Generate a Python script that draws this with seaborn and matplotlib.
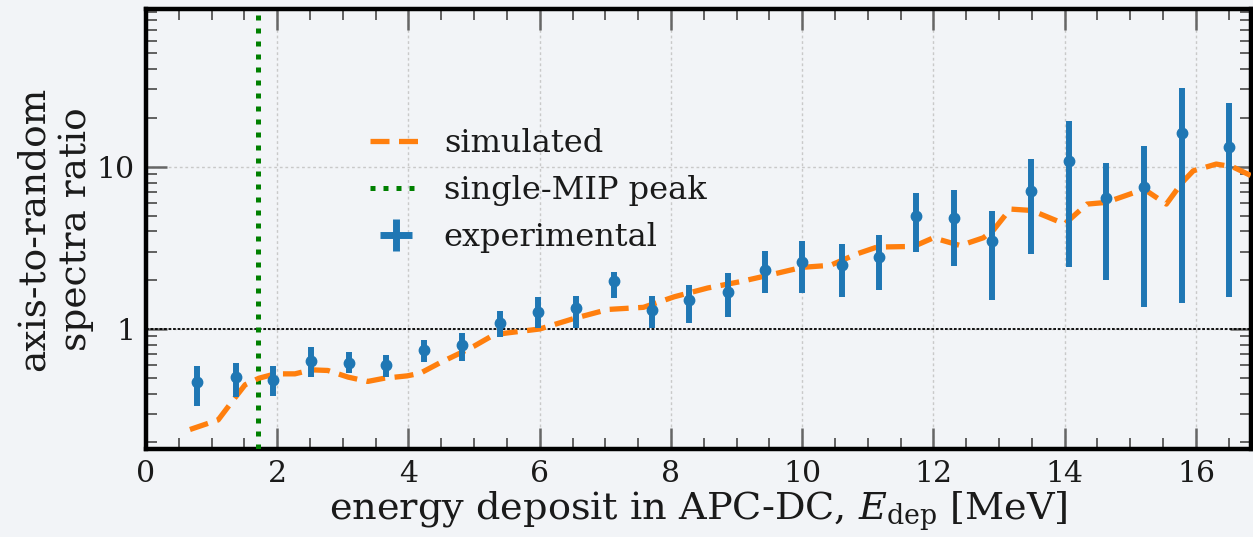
import numpy as np
import pandas as pd
import matplotlib
matplotlib.use("Agg")
import matplotlib.pyplot as plt
from matplotlib.lines import Line2D
from matplotlib.ticker import MultipleLocator, LogLocator, NullFormatter, FixedLocator, FixedFormatter
import seaborn as sns

# ---- data ----
exp_x = [0.78, 1.37, 1.94, 2.51, 3.09, 3.66, 4.24, 4.82, 5.39, 5.97, 6.55, 7.13, 7.71, 8.28,
         8.87, 9.43, 10.0, 10.6, 11.17, 11.74, 12.32, 12.9, 13.49, 14.07, 14.63, 15.21, 15.79, 16.51]
exp_y = [0.468, 0.505, 0.486, 0.637, 0.616, 0.596, 0.738, 0.80, 1.089, 1.28, 1.34, 1.99, 1.31, 1.51,
         1.70, 2.32, 2.59, 2.47, 2.78, 4.95, 4.81, 3.48, 7.1, 10.8, 6.41, 7.46, 16.1, 13.3]
exp_lo = [0.336, 0.383, 0.387, 0.505, 0.535, 0.505, 0.622, 0.631, 0.893, 1.01, 1.01, 1.55, 1.01, 1.09,
          1.18, 1.66, 1.67, 1.58, 1.75, 2.98, 2.44, 1.50, 2.92, 2.42, 2.01, 1.36, 1.45, 1.57]
exp_hi = [0.588, 0.616, 0.588, 0.774, 0.717, 0.690, 0.859, 0.945, 1.286, 1.58, 1.60, 2.26, 1.60, 1.87,
          2.21, 3.01, 3.48, 3.35, 3.81, 6.88, 7.17, 5.36, 11.2, 19.2, 10.6, 13.5, 30.8, 24.9]

sim_x = [0.67, 1.10, 1.33, 1.51, 1.72, 1.97, 2.27, 2.52, 2.77, 3.08, 3.38, 3.63, 3.98, 4.18, 4.49,
         4.79, 4.99, 5.30, 5.50, 6.00, 6.52, 7.04, 7.58, 8.05, 8.56, 9.06, 9.52, 10.0, 10.43, 10.84,
         11.14, 11.70, 12.00, 12.41, 12.76, 12.91, 13.17, 13.50, 14.00, 14.34, 14.63, 15.21, 15.55,
         15.79, 15.96, 16.31, 16.56, 16.90]
sim_y = [0.24, 0.275, 0.365, 0.453, 0.497, 0.529, 0.529, 0.56, 0.555, 0.505, 0.475, 0.497, 0.514,
         0.534, 0.622, 0.711, 0.78, 0.92, 0.945, 1.0, 1.16, 1.32, 1.36, 1.58, 1.79, 1.96, 2.16, 2.40,
         2.47, 2.91, 3.20, 3.23, 3.65, 3.27, 3.65, 4.05, 5.49, 5.38, 4.44, 5.89, 6.03, 7.28, 5.89,
         8.0, 9.45, 10.4, 10.0, 8.59]

mip_peak = 1.71
x_ticks = [0, 2, 4, 6, 8, 10, 12, 14, 16]
y_ticks = [1, 10]
y_ticklabels = ["1", "10"]

# ---- style ----
BG = "#f2f4f7"
TXT = "#1a1a1a"
sns.set_theme(style="ticks")
plt.rcParams["font.family"] = ["DejaVu Serif"]
plt.rcParams["mathtext.fontset"] = "dejavuserif"

fig = plt.figure(figsize=(12.53, 5.37), dpi=100, facecolor=BG)
ax = fig.add_axes([146 / 1253, 1 - 449 / 537, 1105 / 1253, 440 / 537])
ax.set_facecolor(BG)
ax.set_yscale("log")

sim_df = pd.DataFrame({"x": sim_x, "y": sim_y})
sns.lineplot(data=sim_df, x="x", y="y", ax=ax, color="#ff7f0e", lw=3.8,
             linestyle="--", dashes=False, zorder=4, legend=False)
ax.lines[-1].set_linestyle((0, (3.6, 1.8)))

exp_y_arr = np.array(exp_y)
yerr = np.vstack([exp_y_arr - np.array(exp_lo), np.array(exp_hi) - exp_y_arr])
ax.errorbar(exp_x, exp_y, yerr=yerr, fmt="o", color="#1f77b4", ms=7.5,
            elinewidth=4.3, capsize=0, zorder=5)

ax.axvline(mip_peak, color="green", lw=3.6, linestyle=(0, (1, 1.6)), zorder=3)
ax.axhline(1, color="black", lw=1.3, linestyle=(0, (1.5, 1)), zorder=2)

ax.set_xlim(0, 16.84)
ax.set_ylim(0.182, 94)

ax.xaxis.set_major_locator(FixedLocator(x_ticks))
ax.xaxis.set_minor_locator(MultipleLocator(0.5))
ax.yaxis.set_major_locator(FixedLocator(y_ticks))
ax.yaxis.set_major_formatter(FixedFormatter(y_ticklabels))
ax.yaxis.set_minor_locator(LogLocator(base=10, subs=np.arange(2, 10)))
ax.yaxis.set_minor_formatter(NullFormatter())

ax.grid(True, which="major", color="#c9c9c9", lw=1.0, linestyle=(0, (2, 2)))
ax.set_axisbelow(True)

ax.tick_params(which="major", direction="in", length=15, width=1.8, color="#666666",
               top=True, right=True, labelsize=21.5, pad=8, labelcolor=TXT)
ax.tick_params(which="minor", direction="in", length=8, width=1.3, color="#555555",
               top=True, right=True)

for side in ["left", "bottom", "top", "right"]:
    ax.spines[side].set_linewidth(3.2)
    ax.spines[side].set_color("black")

ax.set_xlabel(r"energy deposit in APC-DC, $E_\mathrm{dep}$ [MeV]", fontsize=27.5, color=TXT)
ax.xaxis.set_label_coords(0.5, -0.163)
ax.xaxis.label.set_va("baseline")
ax.set_ylabel("axis-to-random\nspectra ratio", fontsize=27, color=TXT, linespacing=1.22)
ax.yaxis.set_label_coords(-0.047, 0.5)

handles = [
    Line2D([], [], color="#ff7f0e", lw=3.8, linestyle=(0, (3.6, 1.8))),
    Line2D([], [], color="green", lw=3.6, linestyle=(0, (1, 1.6))),
    Line2D([], [], color="#1f77b4", lw=0, marker="+", ms=23, mew=5),
]
labels = ["simulated", "single-MIP peak", "experimental"]
leg = ax.legend(handles, labels, loc="upper left", bbox_to_anchor=(0.177, 0.795),
                frameon=False, fontsize=23, handlelength=1.6, handletextpad=0.7,
                labelspacing=0.5, labelcolor=TXT)

fig.savefig("out.png", dpi=100, facecolor=BG)
